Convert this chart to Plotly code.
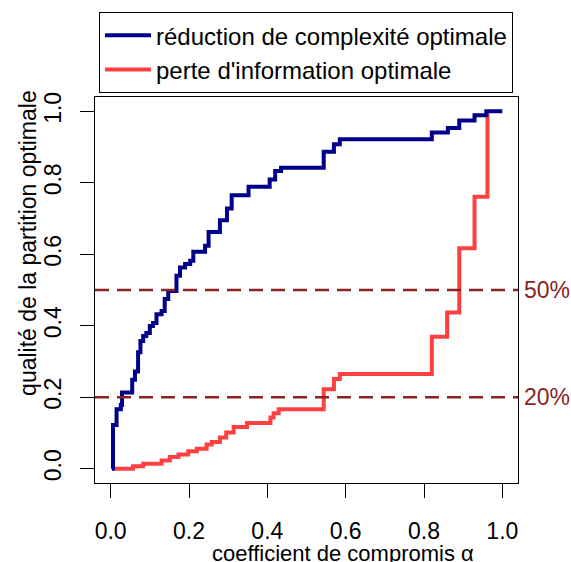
import plotly.graph_objects as go

# --- data ---
alpha_blue = [0.003, 0.006, 0.015, 0.026, 0.029, 0.055, 0.062, 0.070, 0.076, 0.083,
              0.091, 0.100, 0.108, 0.117, 0.130, 0.138, 0.147, 0.168, 0.177, 0.190,
              0.203, 0.211, 0.241, 0.250, 0.279, 0.297, 0.309, 0.352, 0.406, 0.420,
              0.435, 0.544, 0.570, 0.585, 0.820, 0.861, 0.890, 0.929, 0.959, 1.000]
q_blue = [0.000, 0.122, 0.166, 0.178, 0.213, 0.249, 0.272, 0.326, 0.357, 0.371,
          0.380, 0.399, 0.408, 0.432, 0.441, 0.475, 0.497, 0.540, 0.563, 0.573,
          0.582, 0.607, 0.624, 0.662, 0.695, 0.728, 0.765, 0.789, 0.809, 0.833,
          0.842, 0.887, 0.908, 0.922, 0.941, 0.953, 0.974, 0.989, 1.000, 1.000]

alpha_red = [0.010, 0.057, 0.083, 0.130, 0.151, 0.173, 0.198, 0.220, 0.245, 0.258,
             0.279, 0.295, 0.314, 0.348, 0.408, 0.416, 0.429, 0.544, 0.570, 0.585,
             0.820, 0.859, 0.890, 0.929, 0.962]
q_red = [0.000, 0.007, 0.014, 0.023, 0.033, 0.040, 0.049, 0.056, 0.068, 0.075,
         0.087, 0.101, 0.117, 0.128, 0.143, 0.155, 0.166, 0.222, 0.251, 0.265,
         0.369, 0.437, 0.617, 0.761, 1.000]

thresholds = [0.5, 0.2]
threshold_labels = ["50%", "20%"]
tick_vals = [0.0, 0.2, 0.4, 0.6, 0.8, 1.0]
tick_text = ["0.0", "0.2", "0.4", "0.6", "0.8", "1.0"]

name_blue = "réduction de complexité optimale"
name_red = "perte d'information optimale"

FONT = "Liberation Sans, Arial, Helvetica, sans-serif"
FS_TICK = 23
FS_LEG = 24
DASHC = "#8B2323"

fig = go.Figure()
fig.add_trace(go.Scatter(x=alpha_red, y=q_red, mode="lines", line_shape="hv",
                         line=dict(color="#FF4040", width=4), name=name_red,
                         legendrank=2))
fig.add_trace(go.Scatter(x=alpha_blue, y=q_blue, mode="lines", line_shape="hv",
                         line=dict(color="#00008B", width=4), name=name_blue,
                         legendrank=1))

for t, lab in zip(thresholds, threshold_labels):
    fig.add_hline(y=t, line=dict(color=DASHC, width=2.5, dash="14px,8px"))
    fig.add_annotation(x=1.0, xref="paper", xanchor="left", xshift=4,
                       y=t, yref="y", yanchor="middle", text=lab,
                       showarrow=False, font=dict(size=FS_TICK, color=DASHC, family=FONT))

fig.add_annotation(x=0.586, xref="paper", xanchor="center", y=0, yref="paper",
                   yanchor="middle", yshift=-70, text="coefficient de compromis α",
                   showarrow=False, font=dict(size=22, color="black", family=FONT))
fig.add_annotation(x=0, xref="paper", xanchor="center", xshift=-67, y=0.622,
                   yref="paper", yanchor="middle", textangle=-90,
                   text="qualité de la partition optimale", showarrow=False,
                   font=dict(size=23, color="black", family=FONT))

axis_common = dict(showgrid=False, zeroline=False, showline=True, mirror=True,
                   linecolor="black", linewidth=1, ticks="outside", ticklen=14,
                   tickwidth=1, tickcolor="black", tickvals=tick_vals,
                   ticktext=tick_text,
                   tickfont=dict(size=FS_TICK, color="black", family=FONT))

fig.update_layout(
    width=571, height=562,
    margin=dict(l=95, r=53, t=97, b=79),
    paper_bgcolor="white", plot_bgcolor="white",
    font=dict(family=FONT, size=FS_LEG, color="black"),
    xaxis=dict(range=[-0.04, 1.04], ticklabelstandoff=13, **axis_common),
    yaxis=dict(range=[-0.04, 1.04], tickangle=-90, ticklabelstandoff=10, **axis_common),
    showlegend=True,
    legend=dict(x=0.0095, y=1.22, xanchor="left", yanchor="top",
                bordercolor="black", borderwidth=1, bgcolor="white",
                font=dict(size=FS_LEG, family=FONT, color="black"),
                itemwidth=46, tracegroupgap=0),
)

fig.write_html("out.html", config={"displayModeBar": False},
               post_script="document.body.style.margin='0';")
